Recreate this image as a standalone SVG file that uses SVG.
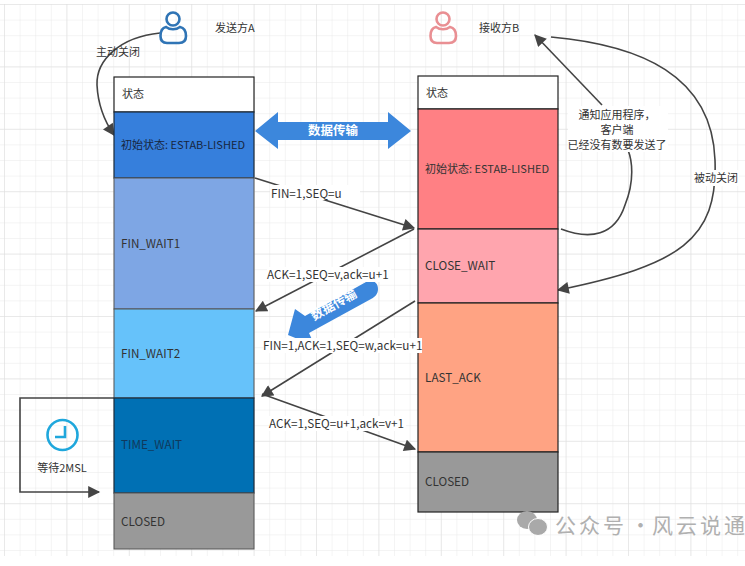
<svg xmlns="http://www.w3.org/2000/svg" width="745" height="566" viewBox="0 0 745 566">
<style>
text{font-family:"Noto Sans CJK SC","Liberation Sans",sans-serif;font-size:11px;fill:#333}
.l{font-size:11.7px}
.t{fill:#fff;font-size:12.500px;font-weight:700}
.b{stroke:#222;stroke-width:1.2}
.a{stroke:#1d2b3a;stroke-width:1.2}
.c{fill:none;stroke:#444;stroke-width:1.6}
.lbl{fill:#fff}
</style>
<defs>
<pattern id="g" x="4" y="4" width="15.6" height="15.6" patternUnits="userSpaceOnUse"><path d="M0 0H15.6M0 0V15.6" fill="none" stroke="#e9e9e9" stroke-width="1"/></pattern>
<pattern id="g2" x="4" y="4" width="62.4" height="62.4" patternUnits="userSpaceOnUse"><path d="M0 0H62.4M0 0V62.4" fill="none" stroke="#dedede" stroke-width="1"/></pattern>
<marker id="m" viewBox="0 0 10 10" refX="9" refY="5" markerWidth="13" markerHeight="12" markerUnits="userSpaceOnUse" orient="auto"><path d="M0 0L10 5L0 10Z" fill="#444"/></marker>
</defs>
<rect width="745" height="566" fill="#fff"/>
<rect x="0" y="4" width="745" height="552" fill="url(#g)"/>
<rect x="0" y="4" width="745" height="552" fill="url(#g2)"/>
<g id="connectors">
<path class="c" d="M160 33C120 37 96 60 97 85C98 105 105 122 114 135" marker-end="url(#m)"/>
<path class="c" d="M255 178L414 228" marker-end="url(#m)"/>
<path class="c" d="M414 229L256 311" marker-end="url(#m)"/>
<path class="c" d="M415 301L262 396" marker-end="url(#m)"/>
<path class="c" d="M262 394L415 449" marker-end="url(#m)"/>
<path class="c" d="M561 229C590 240 615 236 625 205C635 180 632 160 628 150"/>
<path class="c" d="M602 105L535 35" marker-end="url(#m)"/>
<path class="c" d="M551 37C640 45 712 75 715 160C718 240 680 265 558 290" marker-end="url(#m)"/>
<path class="c" d="M114 398H20V492H99" marker-end="url(#m)"/>
</g>
<g id="sender-icon" fill="none" stroke="#2f74b5" stroke-width="2.6">
<circle cx="173" cy="19" r="6.500"/>
<path d="M166 27C161 28 160.500 32 160.500 36C160.500 41 163 43 167 43H179C183 43 186 41 186 36C186 32 185 28 180 27C176 30 170 30 166 27Z"/>
</g>
<g id="receiver-icon" fill="none" stroke="#e98f93" stroke-width="2.6">
<circle cx="443" cy="19" r="6.500"/>
<path d="M436 27C431 28 430.500 32 430.500 36C430.500 41 433 43 437 43H449C453 43 456 41 456 36C456 32 455 28 450 27C446 30 440 30 436 27Z"/>
</g>
<g id="sender-label"><text x="215" y="32">发送方A</text></g>
<g id="receiver-label"><text x="479" y="32">接收方B</text></g>
<g id="close-label"><text x="96" y="56">主动关闭</text></g>
<g id="a-state"><rect x="114" y="77" width="140" height="35" fill="#fff" class="b"/><text x="122" y="98">状态</text></g>
<g id="a-estab"><rect x="114" y="112" width="140" height="66" fill="#367fdc" class="a"/><text x="121" y="149" style="fill:#16263f">初始状态: ESTAB-LISHED</text></g>
<g id="a-fw1"><rect x="114" y="178" width="140" height="131" fill="#7ea6e4" stroke="#555"/><text x="121" y="248" class="l">FIN_WAIT1</text></g>
<g id="a-fw2"><rect x="114" y="309" width="140" height="89" fill="#66c2fa" stroke="#555"/><text x="121" y="358" class="l">FIN_WAIT2</text></g>
<g id="a-tw"><rect x="114" y="398" width="140" height="95" fill="#0070b4" class="a"/><text x="121" y="449" class="l" style="fill:#10395c">TIME_WAIT</text></g>
<g id="a-closed"><rect x="114" y="493" width="140" height="56" fill="#999" stroke="#555"/><text x="121" y="526" class="l">CLOSED</text></g>
<g id="b-state"><rect x="418" y="76" width="140" height="33" fill="#fff" class="b"/><text x="426" y="97">状态</text></g>
<g id="b-estab"><rect x="418" y="109" width="140" height="120" fill="#ff8084" class="b"/><text x="425" y="173">初始状态: ESTAB-LISHED</text></g>
<g id="b-cw"><rect x="418" y="229" width="140" height="74" fill="#ffa5ae" class="b"/><text x="425" y="270" class="l">CLOSE_WAIT</text></g>
<g id="b-la"><rect x="418" y="303" width="140" height="149" fill="#ffa383" class="b"/><text x="425" y="382" class="l">LAST_ACK</text></g>
<g id="b-closed"><rect x="418" y="452" width="140" height="60" fill="#999" class="b"/><text x="425" y="486" class="l">CLOSED</text></g>
<g id="transfer-double"><path d="M255 131L278 112V122H388V112L411 131L388 149V140H278V149Z" fill="#3c87dc"/><text x="333" y="135" text-anchor="middle" class="t">数据传输</text></g>
<g id="transfer-single"><path d="M288 335L295 309L305 316L366 282C372 279 378 282 378 289C378 294 375 297 371 299L309 333L315 346Z" fill="#3c87dc"/><text x="334" y="309" text-anchor="middle" transform="rotate(-29 334 305)" class="t">数据传输</text></g>
<g id="label-fin"><rect x="270" y="185" width="90" height="15" class="lbl"/><text x="271" y="198" class="l">FIN=1,SEQ=u</text></g>
<g id="label-ack"><rect x="267" y="267" width="124" height="15" class="lbl"/><text x="267" y="279" class="l">ACK=1,SEQ=v,ack=u+1</text></g>
<g id="label-fin2"><rect x="263" y="338" width="159" height="15" class="lbl"/><text x="263" y="350" class="l">FIN=1,ACK=1,SEQ=w,ack=u+1</text></g>
<g id="label-ack2"><rect x="269" y="416" width="137" height="15" class="lbl"/><text x="269" y="428" class="l">ACK=1,SEQ=u+1,ack=v+1</text></g>
<g id="notify-label"><rect x="568" y="106" width="100" height="46" class="lbl"/><text x="617" y="119" text-anchor="middle">通知应用程序，</text><text x="617" y="134" text-anchor="middle">客户端</text><text x="617" y="149" text-anchor="middle">已经没有数要发送了</text></g>
<g id="passive-label"><rect x="693" y="170" width="46" height="16" class="lbl"/><text x="716" y="182" text-anchor="middle">被动关闭</text></g>
<g id="timer" fill="none" stroke="#1fa7dc" stroke-width="2.6"><circle cx="62.500" cy="435" r="15"/><path d="M65 426V437H55"/></g>
<g id="wait-label"><text x="62" y="472" text-anchor="middle">等待2MSL</text></g>
<g id="watermark"><ellipse cx="527" cy="520" rx="10" ry="9" fill="#a9a9a9"/><ellipse cx="538" cy="527" rx="9.500" ry="8.500" fill="#a9a9a9" stroke="#fff"/><text x="555 579 603 625 630 645 652 676 700 724" y="533" style="font-size:21px;fill:#b0b0b0">公众号 · 风云说通</text></g>
</svg>
